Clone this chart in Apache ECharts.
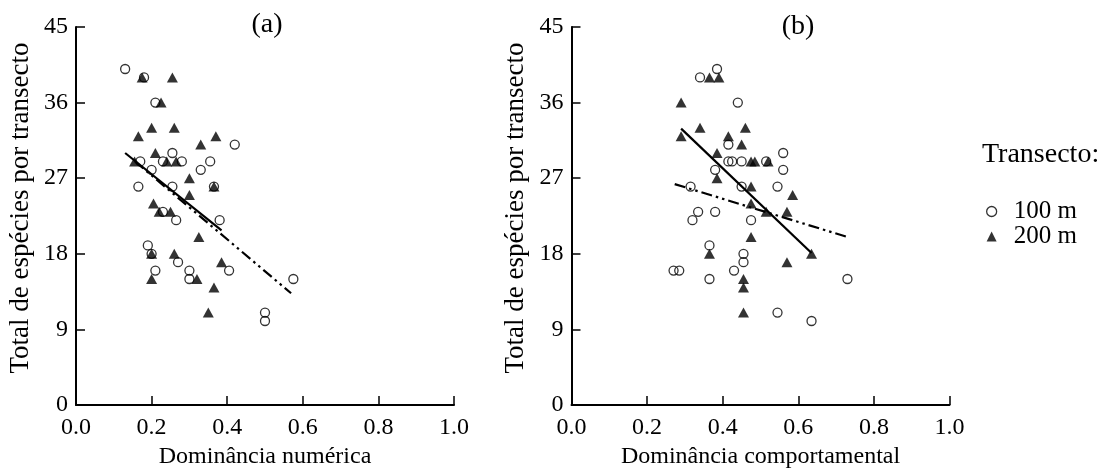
<!DOCTYPE html>
<html>
<head>
<meta charset="utf-8">
<script src="https://cdn.jsdelivr.net/npm/echarts@6/dist/echarts.min.js"></script>
<style>
html,body{margin:0;padding:0;background:#fff;}
#chart{width:1107px;height:468px;}
</style>
</head>
<body>
<div id="chart"></div>
<script>
// ---- Data ----
var circlesA = [[0.13,40],[0.18,39],[0.21,36],[0.42,31],[0.255,30],[0.17,29],[0.23,29],[0.28,29],[0.355,29],[0.20,28],[0.33,28],[0.165,26],[0.255,26],[0.365,26],[0.23,23],[0.265,22],[0.38,22],[0.19,19],[0.20,18],[0.27,17],[0.21,16],[0.30,16],[0.30,15],[0.405,16],[0.50,11],[0.50,10],[0.575,15]];
var trianglesA = [[0.175,39],[0.255,39],[0.225,36],[0.165,32],[0.20,33],[0.26,33],[0.37,32],[0.33,31],[0.21,30],[0.155,29],[0.24,29],[0.265,29],[0.30,27],[0.365,26],[0.30,25],[0.205,24],[0.22,23],[0.25,23],[0.325,20],[0.20,18],[0.26,18],[0.20,15],[0.32,15],[0.385,17],[0.365,14],[0.35,11]];
var circlesB = [[0.34,39],[0.385,40],[0.44,36],[0.415,31],[0.56,30],[0.415,29],[0.425,29],[0.45,29],[0.515,29],[0.38,28],[0.56,28],[0.315,26],[0.45,26],[0.545,26],[0.335,23],[0.38,23],[0.32,22],[0.475,22],[0.365,19],[0.455,18],[0.455,17],[0.27,16],[0.285,16],[0.43,16],[0.365,15],[0.545,11],[0.635,10],[0.73,15]];
var trianglesB = [[0.365,39],[0.39,39],[0.29,36],[0.34,33],[0.46,33],[0.29,32],[0.415,32],[0.45,31],[0.385,30],[0.475,29],[0.485,29],[0.52,29],[0.385,27],[0.475,26],[0.585,25],[0.475,24],[0.515,23],[0.57,23],[0.475,20],[0.365,18],[0.57,17],[0.635,18],[0.455,15],[0.455,14],[0.455,11]];
var fitSolidA = [[0.13,30.0],[0.385,20.8]];
var fitDashA = [[0.156,29.0],[0.569,13.3]];
var fitSolidB = [[0.29,32.9],[0.635,18.1]];
var fitDashB = [[0.273,26.3],[0.73,20.0]];
var xTicks = ['0.0','0.2','0.4','0.6','0.8','1.0'];
var yTicks = ['0','9','18','27','36','45'];
var panelTitles = ['(a)','(b)'];
var xTitles = ['Dominância numérica','Dominância comportamental'];
var yTitle = 'Total de espécies por transecto';
var legendTitle = 'Transecto:';
var seriesNames = ['100 m','200 m'];

// ---- Chart ----
var FONT = '"Liberation Serif","Times New Roman",serif';
var chart = echarts.init(document.getElementById('chart'));

function xAxis(i){
  return {
    type:'value', gridIndex:i, min:0, max:1, interval:0.2,
    name:xTitles[i], nameLocation:'middle', nameGap:39,
    nameTextStyle:{fontFamily:FONT,fontSize:24,color:'#000'},
    axisLine:{show:true,onZero:false,lineStyle:{color:'#000',width:2}},
    axisTick:{show:true,inside:true,length:9,lineStyle:{color:'#000',width:1.5}},
    axisLabel:{fontFamily:FONT,fontSize:24,color:'#000',margin:11,
      formatter:function(v){return xTicks[Math.round(v/0.2)];}},
    splitLine:{show:false}
  };
}
function yAxis(i){
  return {
    type:'value', gridIndex:i, min:0, max:45, interval:9,
    name:yTitle, nameLocation:'middle', nameGap:42,
    nameTextStyle:{fontFamily:FONT,fontSize:27,color:'#000',padding:[0,0,0,16]},
    axisLine:{show:true,lineStyle:{color:'#000',width:2}},
    axisTick:{show:true,inside:true,length:9,lineStyle:{color:'#000',width:1.5}},
    axisLabel:{fontFamily:FONT,fontSize:24,color:'#000',margin:8,
      formatter:function(v){return yTicks[Math.round(v/9)];}},
    splitLine:{show:false}
  };
}
function circles(name,data,i){
  return {type:'scatter',name:name,xAxisIndex:i,yAxisIndex:i,data:data,symbol:'circle',symbolSize:9,
    itemStyle:{color:'rgba(255,255,255,0)',borderColor:'#000',borderWidth:1.3},z:2,emphasis:{disabled:true}};
}
function triangles(name,data,i){
  return {type:'scatter',name:name,xAxisIndex:i,yAxisIndex:i,data:data,symbol:'triangle',symbolSize:[11,10],
    itemStyle:{color:'#000'},z:3,emphasis:{disabled:true}};
}
function fit(data,i,dash){
  return {type:'line',xAxisIndex:i,yAxisIndex:i,data:data,symbol:'none',z:4,silent:true,
    lineStyle:{color:'#000',width:2.2,type:dash?[11,4,2.5,4,2.5,4]:'solid'}};
}

chart.setOption({
  animation:false,
  backgroundColor:'#fff',
  title:[
    {text:panelTitles[0],left:262,top:6,textAlign:'center',textStyle:{fontFamily:FONT,fontSize:28,fontWeight:'normal',color:'#000'}},
    {text:panelTitles[1],left:793,top:8,textAlign:'center',textStyle:{fontFamily:FONT,fontSize:28,fontWeight:'normal',color:'#000'}},
    {text:legendTitle,left:977,top:136,textStyle:{fontFamily:FONT,fontSize:28,fontWeight:'normal',color:'#000'}}
  ],
  legend:{
    data:[{name:seriesNames[0],icon:'circle',itemStyle:{color:'rgba(255,255,255,0)',borderColor:'#000',borderWidth:1.3}},
          {name:seriesNames[1],icon:'triangle',itemStyle:{color:'#000'}}],
    orient:'vertical', left:981, top:194, itemWidth:10, itemHeight:10, itemGap:0,
    textStyle:{fontFamily:FONT,fontSize:25,color:'#000',lineHeight:24,padding:[0,0,0,12]}, selectedMode:false
  },
  grid:[
    {left:76,top:27,width:378,height:378,outerBoundsMode:'none',containLabel:false},
    {left:571.5,top:27,width:378,height:378,outerBoundsMode:'none',containLabel:false}
  ],
  xAxis:[xAxis(0),xAxis(1)],
  yAxis:[yAxis(0),yAxis(1)],
  series:[
    circles(seriesNames[0],circlesA,0),
    triangles(seriesNames[1],trianglesA,0),
    fit(fitSolidA,0,false),
    fit(fitDashA,0,true),
    circles(seriesNames[0],circlesB,1),
    triangles(seriesNames[1],trianglesB,1),
    fit(fitSolidB,1,false),
    fit(fitDashB,1,true)
  ]
});
</script>
</body>
</html>
